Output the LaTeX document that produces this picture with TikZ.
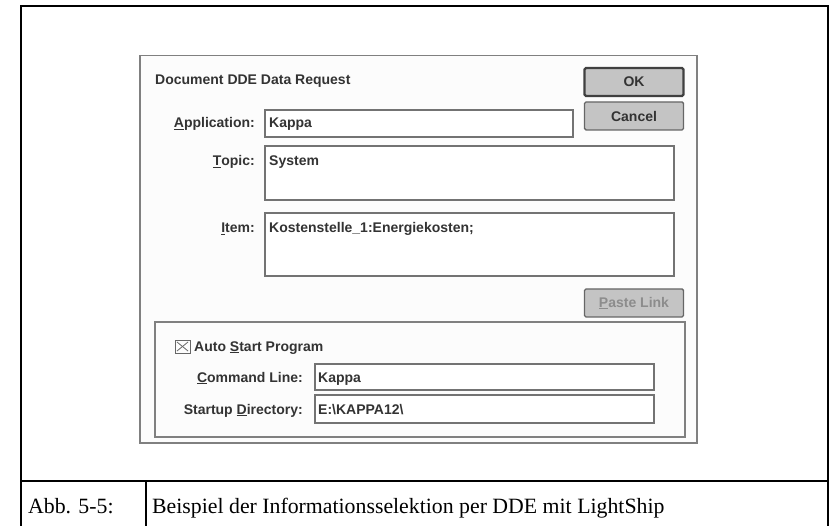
\documentclass[tikz,border=0pt]{standalone}
\usepackage{fontspec}
\setmainfont{Liberation Serif}
\newfontfamily\uifont{Liberation Sans}
\begin{document}
\begin{tikzpicture}[x=1pt,y=-1pt,
  frame/.style={line width=2pt, black},
  ui/.style={font=\uifont\bfseries\fontsize{14}{16}\selectfont, text=black!80, inner sep=0pt},
  tbox/.style={draw=black!55, line width=1.3pt, fill=white},
  btn/.style={draw=black!60, line width=1.4pt, fill=black!23, rounded corners=1.5pt,
     minimum width=99pt, minimum height=28pt, inner sep=0pt,
     font=\uifont\bfseries\fontsize{14}{16}\selectfont, text=black!80},
  captxt/.style={font=\fontsize{21.8}{24}\selectfont, inner sep=0pt, anchor=base west}]
\useasboundingbox (0,0) rectangle (832,526);
\fill[white] (0,0) rectangle (832,526);
% outer frame
\draw[frame] (828,526) -- (828,6.5) -- (21,6.5) -- (21,526);
\draw[frame] (21,481) -- (828,481);
\draw[frame] (146,481) -- (146,526);
\node[captxt] (abb) at (28,513) {Abb. 5-5:};
\node[captxt] (caption) at (152,513) {Beispiel der Informationsselektion per DDE mit LightShip};
% dialog
\draw[black!50, line width=1.5pt, fill=black!1] (140,55.5) rectangle (697,443);
\node[ui, anchor=base west] (title) at (155,85) {Document DDE Data Request};
% buttons
\node[btn, line width=2.2pt, draw=black!75] (ok) at (634,82) {OK};
\node[btn] (cancel) at (634,116) {Cancel};
\node[btn, text=black!45] (paste) at (634,303) {\underline{P}aste Link};
% text boxes
\draw[tbox] (265,110) rectangle (573,137);
\node[ui, anchor=base east] (applbl) at (255,128) {\underline{A}pplication:};
\node[ui, anchor=base west] (appval) at (269,128) {Kappa};
\draw[tbox] (265,146) rectangle (674,200);
\node[ui, anchor=base east] (toplbl) at (255,166) {\underline{T}opic:};
\node[ui, anchor=base west] (topval) at (269,166) {System};
\draw[tbox] (265,213) rectangle (674,276);
\node[ui, anchor=base east] (itemlbl) at (255,233) {\underline{I}tem:};
\node[ui, anchor=base west] (itemval) at (269,233) {Kostenstelle\_1:Energiekosten;};
% group box
\draw[black!50, line width=1.2pt] (155,322) rectangle (685,437);
\draw[black!60, line width=1pt] (175,340) rectangle (190,353);
\draw[black!60, line width=0.8pt] (177,342) -- (188,351) (188,342) -- (177,351);
\node[ui, anchor=base west] (auto) at (194,351) {Auto \underline{S}tart Program};
\draw[tbox] (315,364) rectangle (654,390);
\node[ui, anchor=base east] (cmdlbl) at (303,382) {\underline{C}ommand Line:};
\node[ui, anchor=base west] (cmdval) at (318,382) {Kappa};
\draw[tbox] (315,395) rectangle (654,423);
\node[ui, anchor=base east] (dirlbl) at (303,414) {Startup \underline{D}irectory:};
\node[ui, anchor=base west] (dirval) at (318,414) {E:\textbackslash KAPPA12\textbackslash};
\end{tikzpicture}
\end{document}
